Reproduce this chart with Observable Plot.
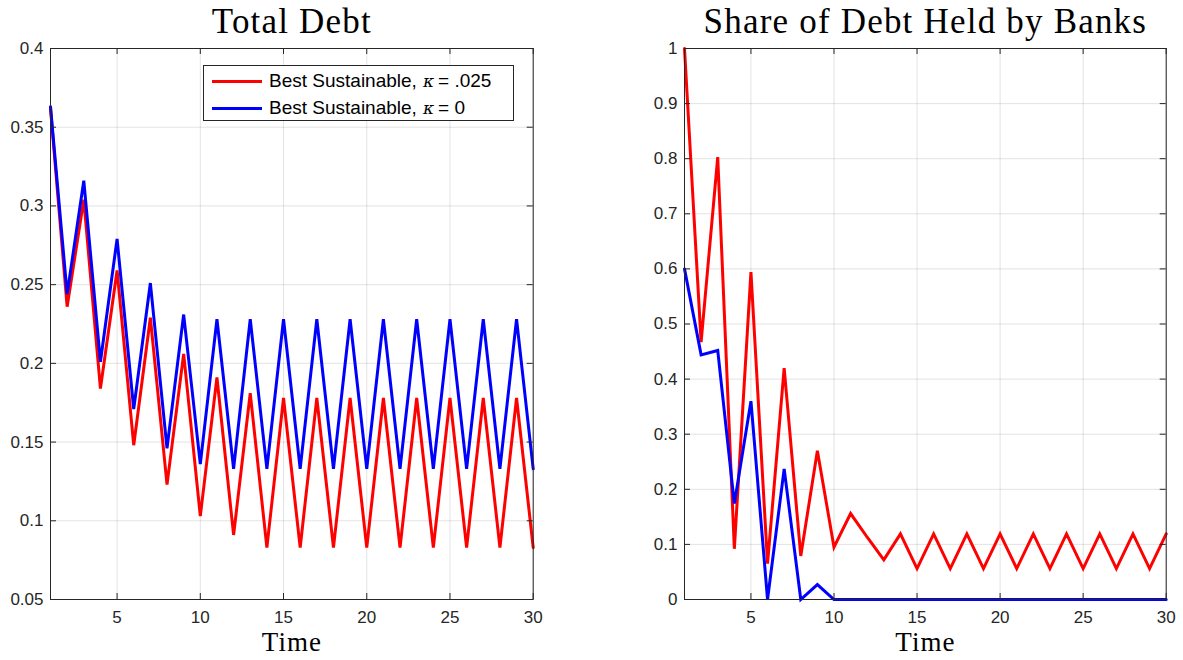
<!DOCTYPE html>
<html>
<head>
<meta charset="utf-8">
<script src="https://cdn.jsdelivr.net/npm/d3@7"></script>
<script src="https://cdn.jsdelivr.net/npm/@observablehq/plot@0.6"></script>
<style>
  html, body { margin: 0; padding: 0; background: #fff; }
  #wrap { position: relative; width: 1183px; height: 660px; overflow: hidden; }
  .panel { position: absolute; top: 0; }
  .legend { position: absolute; left: 203px; top: 65px; width: 311px; height: 56px;
    border: 1px solid #262626; background: #fff; box-sizing: border-box;
    font-family: "Liberation Sans", Arial, sans-serif; font-size: 19px; color: #000; }
  .row { position: absolute; left: 0; height: 24px; display: flex; align-items: center; white-space: nowrap; }
  .sw { display: inline-block; width: 50px; height: 3px; margin-left: 8px; margin-right: 7px; }
  .k { font-family: "DejaVu Serif", serif; font-style: italic; font-size: 17px; margin: 0 4px 0 6px; }
</style>
</head>
<body>
<div id="wrap">
  <div id="left" class="panel" style="left:0px"></div>
  <div id="right" class="panel" style="left:591px"></div>
  <div class="legend">
    <div class="row" style="top:3px"><span class="sw" style="background:#ff0000"></span><span id="lab1"></span></div>
    <div class="row" style="top:30px"><span class="sw" style="background:#0000ff"></span><span id="lab2"></span></div>
  </div>
</div>
<script>
// ---- data ----
const time = [1,2,3,4,5,6,7,8,9,10,11,12,13,14,15,16,17,18,19,20,21,22,23,24,25,26,27,28,29,30];

const debtKappa025 = [0.362,0.236,0.304,0.184,0.259,0.148,0.229,0.123,0.206,0.103,
                      0.191,0.091,0.181,0.083,0.178,0.083,0.178,0.083,0.178,0.083,
                      0.178,0.083,0.178,0.083,0.178,0.083,0.178,0.083,0.178,0.083];
const debtKappa0   = [0.363,0.244,0.316,0.201,0.279,0.171,0.251,0.146,0.231,0.136,
                      0.228,0.133,0.228,0.133,0.228,0.133,0.228,0.133,0.228,0.133,
                      0.228,0.133,0.228,0.133,0.228,0.133,0.228,0.133,0.228,0.133];

const shareKappa025 = [1.0,0.467,0.803,0.092,0.594,0.065,0.420,0.079,0.270,0.095,
                       0.156,0.113,0.072,0.119,0.056,0.119,0.056,0.119,0.056,0.119,
                       0.056,0.119,0.056,0.119,0.056,0.119,0.056,0.119,0.056,0.119];
const shareKappa0   = [0.600,0.444,0.452,0.174,0.360,0.0,0.237,0.0,0.027,0.0,
                       0,0,0,0,0,0,0,0,0,0,
                       0,0,0,0,0,0,0,0,0,0];

const seriesLabels = ["Best Sustainable,", "Best Sustainable,"];
const kappaValues = [".025", "0"];
const seriesColors = ["#ff0000", "#0000ff"];

const xTicks = [5,10,15,20,25,30];
const xTickLabels = ["5","10","15","20","25","30"];
const debtTicks = [0.05,0.1,0.15,0.2,0.25,0.3,0.35,0.4];
const debtTickLabels = ["0.05","0.1","0.15","0.2","0.25","0.3","0.35","0.4"];
const shareTicks = [0,0.1,0.2,0.3,0.4,0.5,0.6,0.7,0.8,0.9,1];
const shareTickLabels = ["0","0.1","0.2","0.3","0.4","0.5","0.6","0.7","0.8","0.9","1"];

const titles = ["Total Debt", "Share of Debt Held by Banks"];
const xLabel = "Time";

// ---- chart builder ----
const AX = "#262626";
const SERIF = "'Liberation Serif', 'Times New Roman', serif";

function panel({width, marginLeft, marginRight, yDomain, yTicks, yLabels, series, title}) {
  const height = 660, marginTop = 48, marginBottom = 61;
  const pw = width - marginLeft - marginRight;
  const ph = height - marginTop - marginBottom;
  const tl = 6;
  const xFmt = d => xTickLabels[xTicks.indexOf(d)];
  const yFmt = d => yLabels[yTicks.indexOf(d)];
  const svg = Plot.plot({
    width, height, marginLeft, marginRight, marginTop, marginBottom,
    x: {domain: [1, 30]},
    y: {domain: yDomain},
    style: {fontFamily: "'Liberation Sans', Arial, sans-serif", fontSize: "17px", color: AX, background: "#fff", overflow: "visible"},
    marks: [
      Plot.gridX(xTicks, {stroke: AX, strokeOpacity: 0.13, strokeWidth: 1}),
      Plot.gridY(yTicks, {stroke: AX, strokeOpacity: 0.13, strokeWidth: 1}),
      ...series.map(s => Plot.line(time, {x: time, y: s.values, stroke: s.color, strokeWidth: 3, strokeLinejoin: "miter", strokeMiterlimit: 6})),
      Plot.frame({stroke: AX, strokeWidth: 1}),
      Plot.tickX(xTicks, {x: d => d, stroke: AX, insetTop: ph - tl}),
      Plot.tickX(xTicks, {x: d => d, stroke: AX, insetBottom: ph - tl}),
      Plot.tickY(yTicks, {y: d => d, stroke: AX, insetRight: pw - tl}),
      Plot.tickY(yTicks, {y: d => d, stroke: AX, insetLeft: pw - tl}),
      Plot.axisX(xTicks, {tickSize: 0, tickPadding: 11, label: null, tickFormat: xFmt, fill: AX}),
      Plot.axisY(yTicks, {tickSize: 0, tickPadding: 7, label: null, tickFormat: yFmt, fill: AX}),
      Plot.text([title], {text: d => d, frameAnchor: "top", dy: -27, fontFamily: SERIF, fontSize: 35, fill: "#000", lineAnchor: "middle"}),
      Plot.text([xLabel], {text: d => d, frameAnchor: "bottom", dy: 43, fontFamily: SERIF, fontSize: 27, fill: "#000", lineAnchor: "middle"})
    ]
  });
  svg.querySelectorAll("g[font-family]").forEach(g => {
    if (g.getAttribute("font-family").includes("Liberation Serif")) {
      const fs = +g.getAttribute("font-size");
      g.style.letterSpacing = fs > 30 ? "1.2px" : "1px";
    }
  });
  return svg;
}

document.getElementById("left").appendChild(panel({
  width: 591, marginLeft: 50, marginRight: 58.3,
  yDomain: [0.05, 0.4], yTicks: debtTicks, yLabels: debtTickLabels,
  series: [{values: debtKappa025, color: seriesColors[0]}, {values: debtKappa0, color: seriesColors[1]}],
  title: titles[0]
}));
document.getElementById("right").appendChild(panel({
  width: 592, marginLeft: 93, marginRight: 17.3,
  yDomain: [0, 1], yTicks: shareTicks, yLabels: shareTickLabels,
  series: [{values: shareKappa025, color: seriesColors[0]}, {values: shareKappa0, color: seriesColors[1]}],
  title: titles[1]
}));

["lab1", "lab2"].forEach((id, i) => {
  const el = document.getElementById(id);
  el.innerHTML = seriesLabels[i] + '<span class="k">κ</span>= ' + kappaValues[i];
});
</script>
</body>
</html>
